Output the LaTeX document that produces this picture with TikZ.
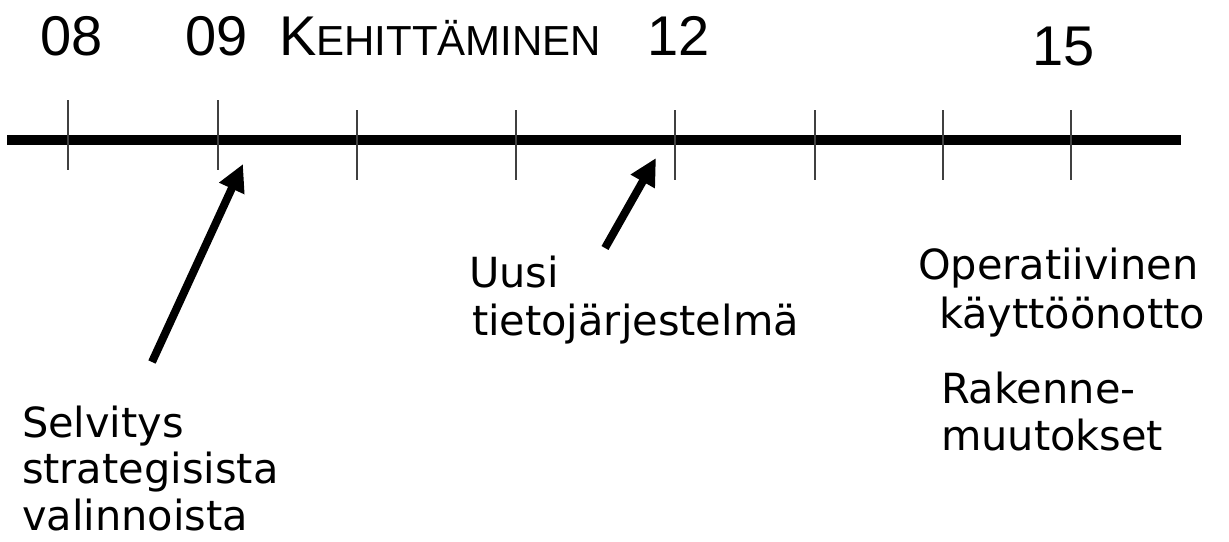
\documentclass[tikz,border=0pt]{standalone}
\usepackage{fontspec}
\setmainfont{Liberation Sans}
\newfontfamily\bodyfont{DejaVu Sans}
\newfontfamily\headfont{Liberation Sans}
\usetikzlibrary{arrows.meta}
\tikzset{
  head/.style={anchor=base west, inner sep=0pt, outer sep=0pt, font=\headfont\fontsize{56}{60}\selectfont},
  lbl/.style={anchor=base west, inner sep=0pt, outer sep=0pt, font=\bodyfont\fontsize{41.5}{46.5}\selectfont},
  axis/.style={line width=10pt},
  tickmark/.style={line width=1.4pt, draw=black!75},
  bigarrow/.style={line width=8pt, -{Triangle[length=27pt,width=26pt]}}
}
\begin{document}
\begin{tikzpicture}[x=1pt,y=-1pt]
\useasboundingbox (0,0) rectangle (1229,541);
% header
\node[head] (h08) at (40,55) {08};
\node[head] (h09) at (185,55) {09};
\node[head] (hkeh) at (279,55) {K{\fontsize{42}{46}\selectfont EHITTÄMINEN}};
\node[head] (h12) at (647,55) {12};
\node[head] (h15) at (1032,65) {15};
% axis
\coordinate (axL) at (7,140);
\coordinate (axR) at (1181,140);
\draw[axis] (axL) -- (axR);
% ticks
\foreach \x/\t/\b [count=\i] in {68/100/170,218/100/170,357/110/180,516/110/180,675/110/180,815/110/180,943/110/180,1071/110/180}{
  \coordinate (t\i a) at (\x,\t);
  \coordinate (t\i b) at (\x,\b);
  \draw[tickmark] (t\i a) -- (t\i b);
}
% arrows
\coordinate (a1s) at (152,362);
\coordinate (a1e) at (243,164);
\coordinate (a2s) at (605,248);
\coordinate (a2e) at (656,158);
\draw[bigarrow] (a1s) -- (a1e);
\draw[bigarrow] (a2s) -- (a2e);
% labels
\node[lbl] (s1) at (22,437) {Selvitys};
\node[lbl] (s2) at (22,483) {strategisista};
\node[lbl] (s3) at (22,530) {valinnoista};
\node[lbl] (u1) at (469,287) {Uusi};
\node[lbl] (u2) at (472,335) {tietojärjestelmä};
\node[lbl] (o1) at (918,279) {Operatiivinen};
\node[lbl] (o2) at (939,328) {käyttöönotto};
\node[lbl] (r1) at (941,403) {Rakenne-};
\node[lbl] (r2) at (941,450) {muutokset};
\end{tikzpicture}
\end{document}
